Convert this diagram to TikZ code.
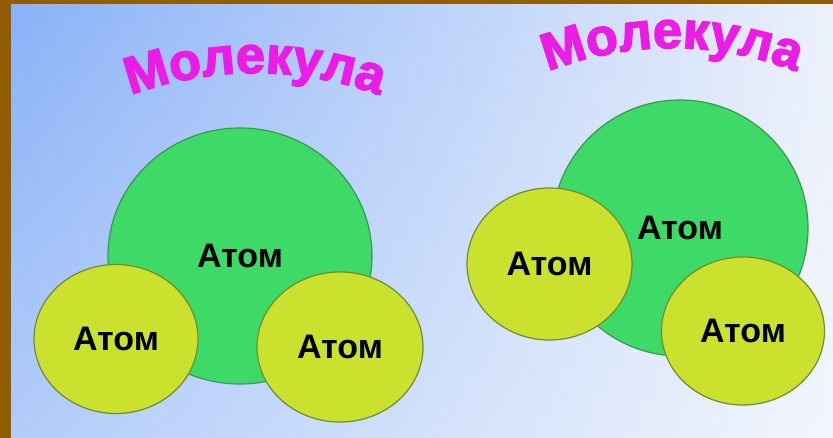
\documentclass[tikz,border=0pt]{standalone}
\usepackage{fontspec}
\setmainfont{Liberation Sans}
\newfontfamily\titlefont{Liberation Sans}[BoldFeatures={FakeBold=3}]
\usetikzlibrary{shapes.geometric,decorations.text,fadings}
\definecolor{frame}{RGB}{146,92,0}
\definecolor{bgL}{RGB}{138,178,248}
\definecolor{bgR}{RGB}{236,241,251}
\definecolor{molgreen}{RGB}{62,218,104}
\definecolor{molgreenline}{RGB}{60,150,80}
\definecolor{atomyellow}{RGB}{202,226,46}
\definecolor{atomline}{RGB}{110,140,50}
\definecolor{titlemag}{RGB}{234,28,230}
\newcommand{\ttlstyle}{\titlefont\bfseries\fontsize{52}{52}\selectfont\color{titlemag}}
\tikzset{
  atomtext/.style={font=\bfseries\fontsize{34}{34}\selectfont, text=black},
  bigatom/.style={ellipse, draw=molgreenline, line width=1.2pt, fill=molgreen, inner sep=0pt, atomtext},
  smallatom/.style={ellipse, draw=atomline, line width=1.2pt, fill=atomyellow, inner sep=0pt, atomtext},
}
\begin{document}
\begin{tikzpicture}[x=1pt,y=-1pt]
\useasboundingbox (0,0) rectangle (833,438);
\fill[frame] (0,0) rectangle (833,438);
\shade[left color=bgL, right color=bgR] (11,5) rectangle (833,438);
\fill[white, fill opacity=0.35, path fading=north] (11,5) rectangle (833,438);
% left molecule
\node[bigatom, minimum width=264pt, minimum height=256pt] (gL) at (240,256) {Атом};
\node[smallatom, minimum width=164pt, minimum height=149pt] (aL1) at (116,339) {Атом};
\node[smallatom, minimum width=166pt, minimum height=150pt] (aL2) at (340,347) {Атом};
% right molecule
\node[bigatom, minimum width=256pt, minimum height=256pt] (gR) at (680,228) {Атом};
\node[smallatom, minimum width=165pt, minimum height=152pt] (aR1) at (549.5,264) {Атом};
\node[smallatom, minimum width=163pt, minimum height=148pt] (aR2) at (743,331) {Атом};
% titles
\path[decorate, decoration={text along path, text align=center, text={|\ttlstyle|Молекула}}]
  (255,433) ++(245:360) arc[start angle=245, end angle=295, radius=360];
\path[decorate, decoration={text along path, text align=center, text={|\ttlstyle|Молекула}}]
  (672,388) ++(245:340) arc[start angle=245, end angle=295, radius=340];
\end{tikzpicture}
\end{document}
